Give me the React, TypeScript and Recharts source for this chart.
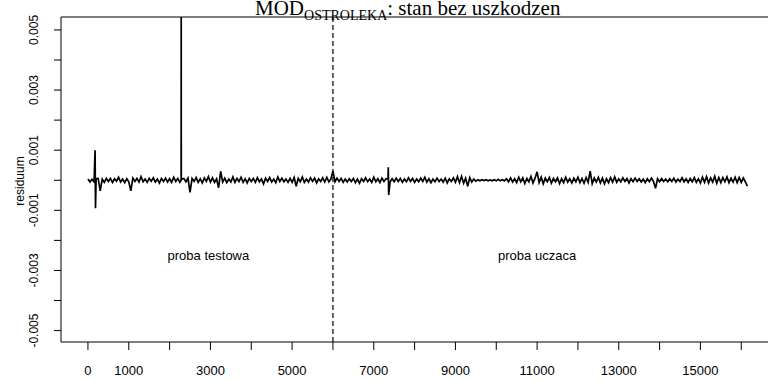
import {
  Line,
  LineChart,
  ReferenceArea,
  ReferenceDot,
  ReferenceLine,
  XAxis,
  YAxis,
} from "recharts"

const STEP = 50
const LEARN_START = 6000

// residuals of the test sample, 0..5950, in units of 1e-5
const testResid = [
  4, -6, 3, -5, 5, 6, -35, 4, -7, 6,
  -4, 6, -7, 5, -3, 10, -6, 4, -8, 5,
  -5, -35, 7, -4, 6, -6, 12, -5, 4, -7,
  6, -3, 8, -6, 4, -9, 6, -4, 7, -6,
  5, -7, 10, -4, 6, -7, 4, 6, -5, 7,
  -40, 6, -4, 9, -7, 5, -9, 8, -4, 12,
  -6, 8, -7, 5, -25, 30, -6, 7, -8, 4,
  -6, 11, -7, 6, -4, 10, -7, 5, -9, 6,
  -4, 6, -7, 9, -5, 4, -12, 7, -4, 9,
  -6, 4, -8, 11, -4, 7, -5, 4, -7, 6,
  -7, 9, -20, 6, -5, 11, -7, 4, -6, 8,
  -4, 7, -9, 5, -4, 8, -6, 10, -5, 4,
]

// residuals of the learning sample, 6000..16150, in units of 1e-5
const learnResid = [
  30, -5, 7, -4, 6, -7, 4, -6, 5, -4,
  6, -8, 4, -10, 5, -4, 8, -5, 4, -7,
  10, -5, 5, -8, 7, -4, 5, 4, -5, 5,
  -5, 7, -4, 6, -7, 4, -5, 8, -4, 6,
  -7, 4, -5, 7, -4, 10, -6, 5, -8, 4,
  -5, 7, -4, 4, -6, 7, -9, 5, -4, 8,
  -7, 12, -8, 13, -10, 7, -20, 9, -6, 4,
  -3, 2, -2, 2, -1, 2, -2, 1, -2, 2,
  -2, 3, -2, 2, -2, 5, -5, 8, -6, 5,
  -8, 10, -5, 8, -11, 6, -5, 13, -9, 7,
  28, -8, 10, -12, 7, -5, 9, -10, 6, -5,
  8, -11, 5, -8, 10, -6, 5, -9, 7, -5,
  10, -8, 6, -10, 9, -7, 30, -11, 8, -6,
  10, -9, 7, -12, 5, -8, 9, -6, 11, -7,
  5, -5, 8, -4, 6, -9, 5, -5, 7, -4,
  5, -6, 4, -8, 5, -5, 7, -4, -27, 5,
  -5, 6, -4, 4, -5, 5, -4, 7, -6, 4,
  -4, 8, -5, 5, -7, 6, -5, 9, -7, 5,
  -9, 10, -7, 12, -9, 8, -6, 13, -10, 9,
  -8, 9, -5, 11, -8, 7, -6, 10, -8, 9,
  -7, 8, -5, -20,
]

// isolated outliers between the regular samples
const spikeX = [175, 185, 2282, 2284, 2286, 7355, 7365]
const spikeResid = [100, -93, 0, 600, 0, 43, -49]

const xTicks = [
  0, 1000, 2000, 3000, 4000, 5000, 6000, 7000, 8000,
  9000, 10000, 11000, 12000, 13000, 14000, 15000, 16000,
]
const xTickLabels = ["0", "1000", "3000", "5000", "7000", "9000", "11000", "13000", "15000"]

const yTicks = [
  -0.005, -0.004, -0.003, -0.002, -0.001, 0, 0.001, 0.002, 0.003, 0.004, 0.005,
]
const yTickLabels = ["-0.005", "-0.003", "-0.001", "0.001", "0.003", "0.005"]

const X_DOMAIN: [number, number] = [-660, 16900]
const Y_DOMAIN: [number, number] = [-0.00538, 0.00543]

const SPLIT_AT = 6000
const sampleLabels = [
  { text: "proba testowa", x: 2950, y: -0.0025 },
  { text: "proba uczaca", x: 11000, y: -0.0025 },
]

const data = [
  ...testResid.map((r, i) => ({ x: i * STEP, r: r * 1e-5 })),
  ...learnResid.map((r, i) => ({ x: LEARN_START + i * STEP, r: r * 1e-5 })),
  ...spikeX.map((x, i) => ({ x, r: spikeResid[i] * 1e-5 })),
].sort((a, b) => a.x - b.x)

const SANS = "'Liberation Sans', Arial, sans-serif"
const SERIF = "'Liberation Serif', 'Times New Roman', serif"

function XTick(props: any) {
  const { x, y, payload } = props
  const label = String(payload.value)
  if (!xTickLabels.includes(label)) return <g />
  return (
    <text x={x} y={y + 25} textAnchor="middle" fontSize={13} fontFamily={SANS} fill="#000">
      {label}
    </text>
  )
}

function YTick(props: any) {
  const { x, y, payload } = props
  const label = Number(payload.value).toFixed(3)
  if (!yTickLabels.includes(label)) return <g />
  return (
    <text
      x={x}
      y={y}
      transform={`rotate(-90 ${x} ${y})`}
      textAnchor="middle"
      fontSize={12}
      fontFamily={SANS}
      fill="#000"
    >
      {label}
    </text>
  )
}

export default function App() {
  return (
    <div
      style={{
        position: "absolute",
        left: 0,
        top: 0,
        width: 768,
        height: 381,
        overflow: "hidden",
        background: "#fff",
      }}
    >
      <LineChart width={788} height={381} data={data} margin={{ top: 17, right: 10, bottom: 0, left: 0 }}>
        <XAxis
          dataKey="x"
          type="number"
          domain={X_DOMAIN}
          ticks={xTicks}
          interval={0}
          allowDataOverflow
          axisLine={false}
          tickLine={{ stroke: "#000" }}
          tickSize={8}
          tickMargin={0}
          height={39}
          tick={<XTick />}
        />
        <YAxis
          type="number"
          domain={Y_DOMAIN}
          ticks={yTicks}
          interval={0}
          allowDataOverflow
          axisLine={false}
          tickLine={{ stroke: "#000" }}
          tickSize={7}
          tickMargin={16}
          width={61}
          tick={<YTick />}
        />
        <ReferenceArea
          x1={X_DOMAIN[0]}
          x2={X_DOMAIN[1]}
          y1={Y_DOMAIN[0]}
          y2={Y_DOMAIN[1]}
          fill="none"
          stroke="#000"
          strokeWidth={1}
        />
        <ReferenceLine x={SPLIT_AT} stroke="#000" strokeWidth={1.2} strokeDasharray="5 3" />
        {sampleLabels.map(s => (
          <ReferenceDot
            key={s.text}
            x={s.x}
            y={s.y}
            r={0}
            fill="none"
            stroke="none"
            label={{ value: s.text, position: "center", fontSize: 13, fontFamily: SANS, fill: "#000" }}
          />
        ))}
        <Line
          type="linear"
          dataKey="r"
          stroke="#000"
          strokeWidth={1.7}
          dot={false}
          isAnimationActive={false}
        />
      </LineChart>

      <svg
        width={768}
        height={381}
        style={{ position: "absolute", left: 0, top: 0, pointerEvents: "none" }}
      >
        <text x={255} y={15} fontFamily={SERIF} fontSize={21} fill="#000">
          MOD
          <tspan fontSize={14} dy={5}>OSTROLEKA</tspan>
          <tspan dy={-5}>: stan bez uszkodzen</tspan>
        </text>
        <text
          x={24}
          y={181}
          transform="rotate(-90 24 181)"
          textAnchor="middle"
          fontSize={12}
          fontFamily={SANS}
          fill="#000"
        >
          residuum
        </text>
      </svg>
    </div>
  )
}
